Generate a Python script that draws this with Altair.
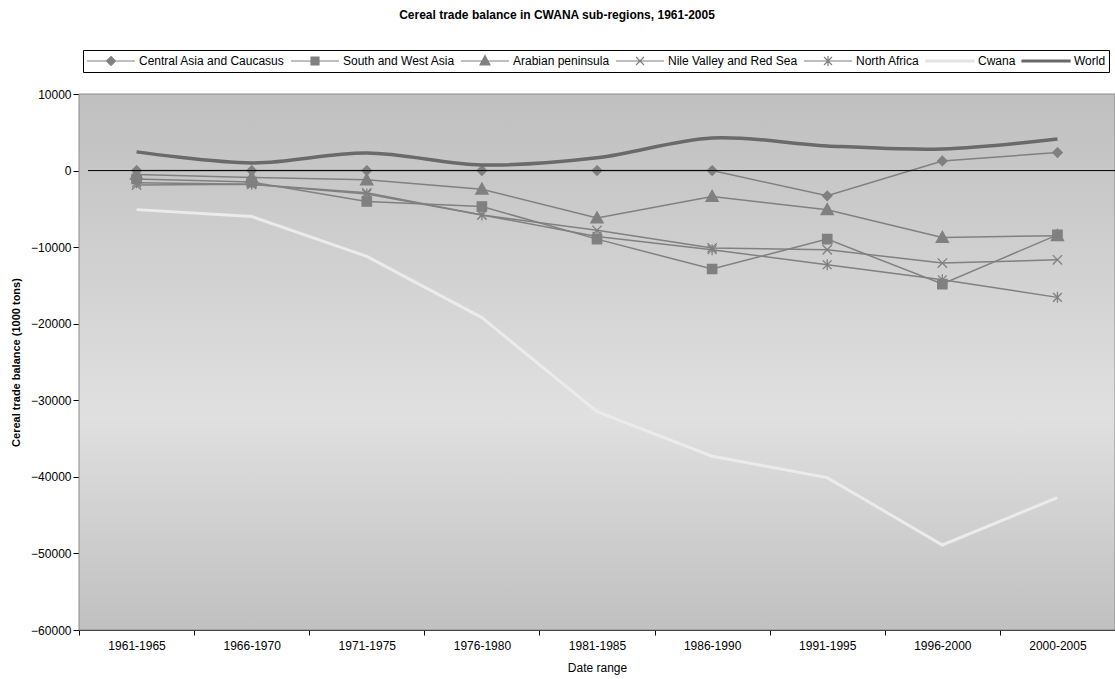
import altair as alt
import pandas as pd

periods = ["1961-1965", "1966-1970", "1971-1975", "1976-1980", "1981-1985",
           "1986-1990", "1991-1995", "1996-2000", "2000-2005"]

central_asia = [0, 0, 0, 0, 0, 0, -3300, 1260, 2350]
south_west_asia = [-1100, -1500, -4040, -4690, -8950, -12860, -8950, -14820, -8390]
arabian_peninsula = [-500, -900, -1210, -2430, -6200, -3390, -5120, -8730, -8500]
nile_valley = [-1900, -1800, -2900, -5800, -7800, -10100, -10340, -12080, -11650]
north_africa = [-1600, -1800, -3050, -5800, -8600, -10340, -12300, -14260, -16560]
cwana = [-5100, -6000, -11200, -19200, -31500, -37300, -40100, -48900, -42700]
world = [2440, 1000, 2300, 740, 1660, 4260, 3220, 2830, 4130]

series_names = ["Central Asia and Caucasus", "South and West Asia", "Arabian peninsula",
                "Nile Valley and Red Sea", "North Africa", "Cwana", "World"]
y_ticks = [10000, 0, -10000, -20000, -30000, -40000, -50000, -60000]

all_values = [central_asia, south_west_asia, arabian_peninsula, nile_valley,
              north_africa, cwana, world]
rows = []
for name, vals in zip(series_names, all_values):
    for p, v in zip(periods, vals):
        rows.append({"series": name, "period": p, "value": v})
df = pd.DataFrame(rows)

W, H = 1036, 536
FONT = "Liberation Sans"
GRAY = "#808080"

marker_paths = {
    "Central Asia and Caucasus": "M0,-0.95L0.95,0L0,0.95L-0.95,0Z",
    "South and West Asia": "M-0.85,-0.85L0.85,-0.85L0.85,0.85L-0.85,0.85Z",
    "Arabian peninsula": "M0,-1L1,0.8L-1,0.8Z",
    "Nile Valley and Red Sea": "M-0.85,-0.85L0.85,0.85M-0.85,0.85L0.85,-0.85",
    "North Africa": "M-0.8,-0.8L0.8,0.8M-0.8,0.8L0.8,-0.8M0,-1L0,1",
}
marker_sizes = {
    "Central Asia and Caucasus": 100,
    "South and West Asia": 121,
    "Arabian peninsula": 150,
    "Nile Valley and Red Sea": 121,
    "North Africa": 121,
}

# legend symbols: unit = 7px, symbol box 14px; line drawn from 0 to 48px
legend_paths = [
    "M-1,0L5.86,0M2.43,-0.64L3.07,0L2.43,0.64L1.79,0Z",
    "M-1,0L5.86,0M1.86,-0.57L3,-0.57L3,0.57L1.86,0.57Z",
    "M-1,0L5.86,0M2.43,-0.79L3.14,0.57L1.72,0.57Z",
    "M-1,0L5.86,0M1.86,-0.57L3,0.57M1.86,0.57L3,-0.57",
    "M-1,0L5.86,0M1.86,-0.57L3,0.57M1.86,0.57L3,-0.57M2.43,-0.71L2.43,0.71",
    "M-1,-0.13L5.86,-0.13L5.86,0.13L-1,0.13Z",
    "M-1,-0.13L5.86,-0.13L5.86,0.13L-1,0.13Z",
]
legend_colors = [GRAY, GRAY, GRAY, GRAY, GRAY, "#e4e4e4", "#6a6a6a"]

x_enc = alt.X("period:N", sort=periods,
              scale=alt.Scale(type="band", domain=periods, paddingInner=0, paddingOuter=0),
              bandPosition=0.5,
              axis=alt.Axis(title="Date range", tickBand="extent", labelAngle=0,
                            labelFontSize=12, labelFont=FONT, labelColor="black",
                            tickColor="black", domainColor="black", tickSize=5,
                            labelPadding=5, titleFont=FONT, titleFontSize=12,
                            titleFontWeight="normal", titleColor="black",
                            titleY=37, titleBaseline="middle"))
y_enc = alt.Y("value:Q",
              scale=alt.Scale(domain=[-60000, 10000], nice=False, zero=False),
              axis=alt.Axis(title="Cereal trade balance (1000 tons)", values=y_ticks,
                            format="d", grid=False, labelFontSize=12, labelFont=FONT,
                            labelColor="black", tickColor="black", domainColor="black",
                            tickSize=6, labelPadding=2, titleFont=FONT, titleFontSize=11,
                            titleFontWeight="bold", titleColor="black", titleX=-63,
                            titleBaseline="middle"))

bg = alt.Chart(alt.Data(values=[{}])).mark_rect(
    fill=alt.Gradient(gradient="linear", x1=0, x2=0, y1=0, y2=1,
                      stops=[alt.GradientStop(offset=0, color="#bfbfbf"),
                             alt.GradientStop(offset=0.6, color="#e0e0e0"),
                             alt.GradientStop(offset=1, color="#c0c0c0")]),
    stroke="#8a8a8a", strokeWidth=1
).encode(x=alt.value(0), x2=alt.value(W), y=alt.value(0), y2=alt.value(H))

base = alt.Chart(df)
regional = series_names[:5]

reg_lines = base.transform_filter(
    alt.FieldOneOfPredicate(field="series", oneOf=regional)
).mark_line(color=GRAY, strokeWidth=1.5).encode(x=x_enc, y=y_enc, detail="series:N")

point_layers = []
for name in regional:
    point_layers.append(
        base.transform_filter(alt.datum.series == name).mark_point(
            shape=marker_paths[name], size=marker_sizes[name], filled=True,
            fill=GRAY, stroke=GRAY, strokeWidth=1.3, opacity=1
        ).encode(x=x_enc, y=y_enc)
    )

zero_rule = alt.Chart(alt.Data(values=[{}])).mark_rule(color="black", strokeWidth=1).encode(
    y=alt.datum(0), x=alt.value(9), x2=alt.value(W))

cwana_line = base.transform_filter(alt.datum.series == "Cwana").mark_line(
    color="#ebebeb", strokeWidth=3).encode(x=x_enc, y=y_enc)

world_line = base.transform_filter(alt.datum.series == "World").mark_line(
    color="#6a6a6a", strokeWidth=3.5, interpolate="cardinal").encode(x=x_enc, y=y_enc)

legend_df = pd.DataFrame({"series": series_names})
leg_props = dict(title=None, orient="none", legendX=4, legendY=-44, direction="horizontal",
                 columns=7, gridAlign="none", labelFont=FONT, labelFontSize=12,
                 labelColor="black", labelLimit=400, labelOffset=37, columnPadding=3,
                 symbolSize=196, symbolOpacity=1, symbolStrokeWidth=1.2,
                 strokeColor="black", fillColor="white", padding=3)
legend_layer = alt.Chart(legend_df).mark_point(filled=True, opacity=0).encode(
    shape=alt.Shape("series:N", scale=alt.Scale(domain=series_names, range=legend_paths),
                    legend=alt.Legend(**leg_props)),
    fill=alt.Fill("series:N", scale=alt.Scale(domain=series_names, range=legend_colors),
                  legend=alt.Legend(**leg_props)),
    stroke=alt.Stroke("series:N", scale=alt.Scale(domain=series_names, range=legend_colors),
                      legend=alt.Legend(**leg_props)),
)

chart = alt.layer(
    bg, reg_lines, *point_layers, zero_rule, cwana_line, world_line, legend_layer
).properties(
    width=W, height=H,
    autosize=alt.AutoSizeParams(type="none"),
    padding={"left": 79, "top": 94, "right": 0, "bottom": 49},
    title=alt.TitleParams("Cereal trade balance in CWANA sub-regions, 1961-2005",
                          font=FONT, fontSize=12, fontWeight="bold", color="black",
                          anchor="middle", frame="group", dx=-40, offset=28),
).configure_view(stroke=None).configure(background="white")

chart.save("out.html", embed_options={"renderer": "svg", "actions": False})
